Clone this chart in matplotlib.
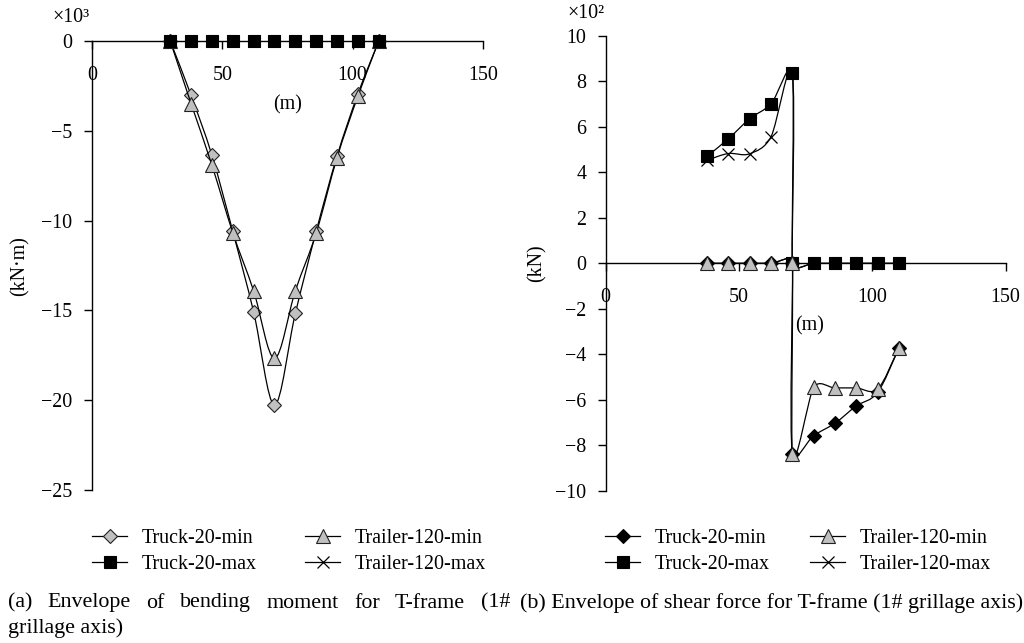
import numpy as np
import matplotlib
matplotlib.use("Agg")
import matplotlib.pyplot as plt
from matplotlib.path import Path
from matplotlib.patches import PathPatch
from matplotlib.lines import Line2D

plt.rcParams['font.family'] = ['Liberation Serif', 'DejaVu Serif']
plt.rcParams['axes.unicode_minus'] = True

# ---------------- data: (a) bending moment (x10^3 kN·m) ----------------
bm_x = [30, 38, 46, 54, 62, 70, 78, 86, 94, 102, 110]
bm_truck_min = [0, -3.02, -6.36, -10.6, -15.08, -20.26, -15.17, -10.6, -6.41, -2.95, 0]
bm_trailer_min = [0, -3.48, -6.91, -10.67, -13.91, -17.67, -13.91, -10.7, -6.5, -3.08, 0]
bm_truck_max = [0, 0, 0, 0, 0, 0, 0, 0, 0, 0, 0]
bm_trailer_max = [0, 0, 0, 0, 0, 0, 0, 0, 0, 0, 0]

# ---------------- data: (b) shear force (x10^2 kN) ----------------
sf_x = [38, 46, 54, 62, 70, 70, 78, 86, 94, 102, 110]
sf_truck_min = [0, 0, 0, 0, 0, -8.38, -7.58, -7.03, -6.27, -5.67, -3.73]
sf_trailer_min = [0, 0, 0, 0, 0, -8.38, -5.46, -5.48, -5.48, -5.52, -3.73]
sf_truck_max = [4.71, 5.48, 6.36, 7.02, 8.36, 0, 0, 0, 0, 0, 0]
sf_trailer_max = [4.54, 4.83, 4.82, 5.57, 8.36, 0, 0, 0, 0, 0, 0]

x_ticks = [0, 50, 100, 150]
bm_yticks = [0, -5, -10, -15, -20, -25]
sf_yticks = [10, 8, 6, 4, 2, 0, -2, -4, -6, -8, -10]
labels = ['Truck-20-min', 'Trailer-120-min', 'Truck-20-max', 'Trailer-120-max']

W, H = 1024, 643
FS = 14.4
GRAY = '#c0c0c0'
EDGE = '#222222'
LW = 0.9


def _ctrl(p, direction, length):
    n = np.hypot(*direction)
    if n == 0:
        return p
    return p + direction / n * length


def smooth_path(ax, x, y):
    """Cubic Bezier smoothing (Catmull-Rom tangents, clamped) in display space."""
    data = np.column_stack([np.asarray(x, float), np.asarray(y, float)])
    pts = ax.transData.transform(data)
    n = len(pts)
    d = np.hypot(*np.diff(pts, axis=0).T)
    verts = [pts[0]]
    codes = [Path.MOVETO]
    for i in range(n - 1):
        p1, p2 = pts[i], pts[i + 1]
        d12 = d[i]
        if i > 0:
            t = p2 - pts[i - 1]
            c1 = _ctrl(p1, t, min(np.hypot(*t) / 6.0, 0.5 * min(d[i - 1], d12)))
        else:
            c1 = p1 + (p2 - p1) / 3.0
        if i + 2 < n:
            t = pts[i + 2] - p1
            c2 = _ctrl(p2, -t, min(np.hypot(*t) / 6.0, 0.5 * min(d[i + 1], d12)))
        else:
            c2 = p2 - (p2 - p1) / 3.0
        verts += [c1, c2, p2]
        codes += [Path.CURVE4] * 3
    verts = ax.transData.inverted().transform(np.array(verts))
    return Path(verts, codes)


styles = {
    'dia_gray': dict(marker='D', markersize=7.5, mfc=GRAY, mec=EDGE, mew=0.8),
    'dia_black': dict(marker='D', markersize=7.0, mfc='black', mec='black', mew=0.8),
    'tri': dict(marker='^', markersize=9.5, mfc=GRAY, mec=EDGE, mew=0.8),
    'sq': dict(marker='s', markersize=8.4, mfc='black', mec='black', mew=0.8),
    'x': dict(marker='x', markersize=8, mfc='none', mec='black', mew=0.9),
}


def series(ax, x, y, st, z):
    ax.add_patch(PathPatch(smooth_path(ax, x, y), fill=False, edgecolor='black',
                           lw=LW, zorder=z))
    ax.plot(x, y, ls='none', zorder=z + 0.5, clip_on=False, **styles[st])


def px(x, y):
    return x / W, 1 - y / H


fig = plt.figure(figsize=(W / 100, H / 100), dpi=100)

# ---------------- panel (a) ----------------
ax1 = fig.add_axes([92 / W, 1 - 490 / H, 391 / W, 449 / H])
ax1.set_xlim(0, 150)
ax1.set_ylim(-25, 0)
series(ax1, bm_x, bm_truck_min, 'dia_gray', 3)
series(ax1, bm_x, bm_trailer_min, 'tri', 4)
series(ax1, bm_x, bm_trailer_max, 'x', 5)
series(ax1, bm_x, bm_truck_max, 'sq', 6)
ax1.set_yticks(bm_yticks)
ax1.text(75.2, -3.56, '(m)', fontsize=FS, ha='center', va='center')

# ---------------- panel (b) ----------------
ax2 = fig.add_axes([605.7 / W, 1 - 490.7 / H, 400 / W, 454.7 / H])
ax2.set_xlim(0, 150)
ax2.set_ylim(-10, 10)
series(ax2, sf_x, sf_trailer_max, 'x', 3)
series(ax2, sf_x, sf_truck_max, 'sq', 4)
series(ax2, sf_x, sf_truck_min, 'dia_black', 5)
series(ax2, sf_x, sf_trailer_min, 'tri', 6)
ax2.set_yticks(sf_yticks)
ax2.text(76.6, -2.73, '(m)', fontsize=FS, ha='center', va='center')

for ax in (ax1, ax2):
    ax.set_xticks(x_ticks)
    ax.spines['top'].set_visible(False)
    ax.spines['right'].set_visible(False)
    ax.spines['bottom'].set_position(('data', 0))
    ax.spines['bottom'].set_zorder(2)
    for s in ('left', 'bottom'):
        ax.spines[s].set_linewidth(1.0)
    ax.tick_params(axis='x', direction='out', length=6, width=1.0, pad=12, labelsize=FS)
    ax.tick_params(axis='y', direction='out', length=6, width=1.0, pad=8, labelsize=FS)
    ax.patch.set_visible(False)

fig.text(*px(20, 266), '(kN·m)', rotation=90, fontsize=FS, ha='center', va='center')
fig.text(*px(537, 263), '(kN)', rotation=90, fontsize=FS, ha='center', va='center')
fig.text(*px(52, 17), '×10³', fontsize=FS, ha='left', va='center')
fig.text(*px(567, 13), '×10²', fontsize=FS, ha='left', va='center')


# ---------------- legends ----------------
def handle(st):
    return Line2D([], [], color='black', lw=LW, **styles[st])


def add_leg(hs, labs, x0):
    leg = fig.legend(hs, labs, loc='center left', bbox_to_anchor=px(x0, 551.5),
                     frameon=False, fontsize=FS, handlelength=1.75,
                     handletextpad=0.75, labelspacing=0.36, borderpad=0,
                     borderaxespad=0, numpoints=1)
    return leg


add_leg([handle('dia_gray'), handle('sq')], [labels[0], labels[2]], 92)
add_leg([handle('tri'), handle('x')], [labels[1], labels[3]], 305)
add_leg([handle('dia_black'), handle('sq')], [labels[0], labels[2]], 605)
add_leg([handle('tri'), handle('x')], [labels[1], labels[3]], 810)

# ---------------- captions ----------------
renderer = fig.canvas.get_renderer()
cap_b = '(b) Envelope of shear force for T-frame (1# grillage axis)'
tb = fig.text(*px(520, 603), cap_b, fontsize=FS, ha='left', va='center')
wb = tb.get_window_extent(renderer).width
cap_fs = FS * 502.0 / wb
tb.set_fontsize(cap_fs)

words_a = '(a) Envelope of bending moment for T-frame (1#'.split()
tmp = [fig.text(0, 0, w, fontsize=cap_fs) for w in words_a]
widths = [t.get_window_extent(renderer).width for t in tmp]
for t in tmp:
    t.remove()
gap = (510 - 8 - sum(widths)) / (len(words_a) - 1)
xc = 8.0
for w, wd in zip(words_a, widths):
    fig.text(*px(xc, 603), w, fontsize=cap_fs, ha='left', va='center')
    xc += wd + gap
fig.text(*px(8, 628), 'grillage axis)', fontsize=cap_fs, ha='left', va='center')

fig.savefig('out.png', dpi=100)
